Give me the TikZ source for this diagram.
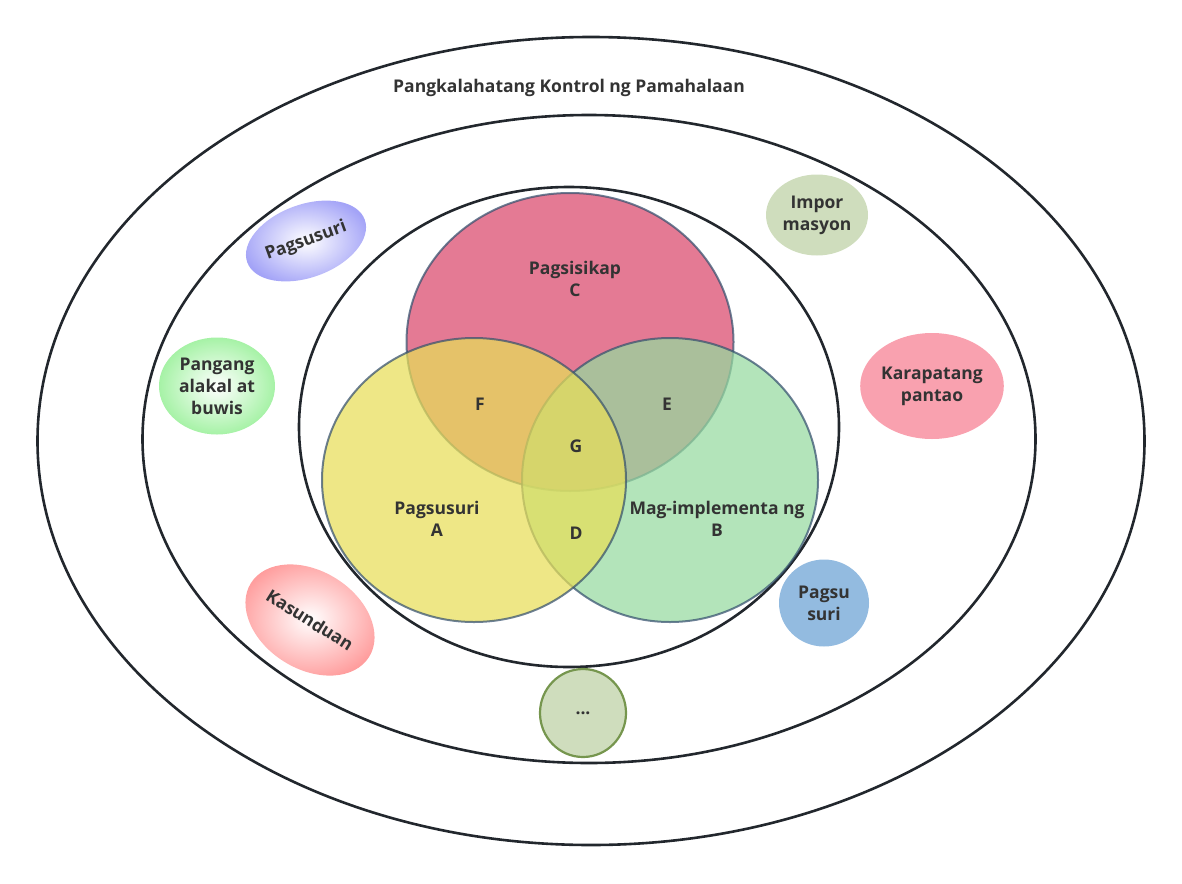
\documentclass[tikz,border=0pt]{standalone}
\usepackage{fontspec}
\setmainfont{Open Sans}
\usetikzlibrary{shapes.geometric,positioning}
\definecolor{ink}     {HTML}{333333}
\definecolor{ringline}{HTML}{22272D}
\definecolor{vennline}{HTML}{35506E}
\definecolor{crimson} {HTML}{D9476B}
\definecolor{lemon}   {HTML}{E7DE58}
\definecolor{leaf}    {HTML}{95DA9F}
\definecolor{violet}  {HTML}{A3A3F7}
\definecolor{lime}    {HTML}{A6F2A6}
\definecolor{rose}    {HTML}{FF9E9E}
\definecolor{sage}    {HTML}{CFDDBD}
\definecolor{blush}   {HTML}{F9A1AF}
\definecolor{sky}     {HTML}{93BBE0}
\definecolor{moss}    {HTML}{76964E}
\tikzset{
  every node/.style={font=\fontsize{17.5}{22}\selectfont\bfseries, text=ink},
  % --- rings
  ring/.style  = {ellipse, draw=ringline, line width=2.6pt, inner sep=0pt},
  % --- venn sets
  venn/.style  = {ellipse, draw=vennline, line width=2pt, opacity=0.72, inner sep=0pt},
  % --- loose items
  blob/.style  = {ellipse, inner sep=0pt, align=center},
  glow/.style  = {blob, shading=radial, inner color=white, outer color=#1},
  lbl/.style   = {align=center},
}
\begin{document}
\begin{tikzpicture}[x=1pt,y=-1pt]
  \useasboundingbox (0,0) rectangle (1182,883);

  % nested control rings
  \node[ring, minimum width=1107, minimum height=808] (outer)  at (591,441) {};
  \node[ring, minimum width=893,  minimum height=648] (middle) at (589,439) {};
  \node[ring, minimum width=540,  minimum height=480] (inner)  at (569,427) {};
  \node (title) at (569,88) {Pangkalahatang Kontrol ng Pamahalaan};

  % the three sets
  \node[venn, fill=crimson, minimum width=327, minimum height=298] (setC) at (570,342) {};
  \node[venn, fill=leaf,    minimum width=296, minimum height=284] (setB) at (670,480) {};
  \node[venn, fill=lemon,   minimum width=304, minimum height=284] (setA) at (474,480) {};

  \node[lbl] (labC) at (575,279) {Pagsisikap\\C};
  \node[lbl] (labA) at (437,519) {Pagsusuri\\A};
  \node[lbl] (labB) at (717,519) {Mag-implementa ng\\B};
  \node (regF) at (480,404) {F};
  \node (regE) at (667,404) {E};
  \node (regG) at (576,446) {G};
  \node (regD) at (576,533) {D};

  % items between the rings
  \node[glow=violet, minimum width=125, minimum height=73, rotate=20] (pagsusuri) at (306,241) {Pagsusuri};
  \node[glow=lime, minimum width=116, minimum height=97] (kalakal) at (217,386) {Pangang\\alakal at\\buwis};
  \node[glow=rose, minimum width=132, minimum height=98, rotate=-32] (kasunduan) at (310,620) {Kasunduan};
  \node[blob, fill=sage, minimum width=102, minimum height=81] (impormasyon) at (817,215) {Impor\\masyon};
  \node[blob, fill=blush, minimum width=140, minimum height=106] (karapatan) at (932,386) {Karapatang\\pantao};
  \node[blob, fill=sky, minimum width=90, minimum height=87] (pagsusuri2) at (824,603) {Pagsu\\suri};
  \node[blob, fill=sage, draw=moss, line width=2.2pt, minimum width=86, minimum height=88] (more) at (583,713) {...};
\end{tikzpicture}
\end{document}
